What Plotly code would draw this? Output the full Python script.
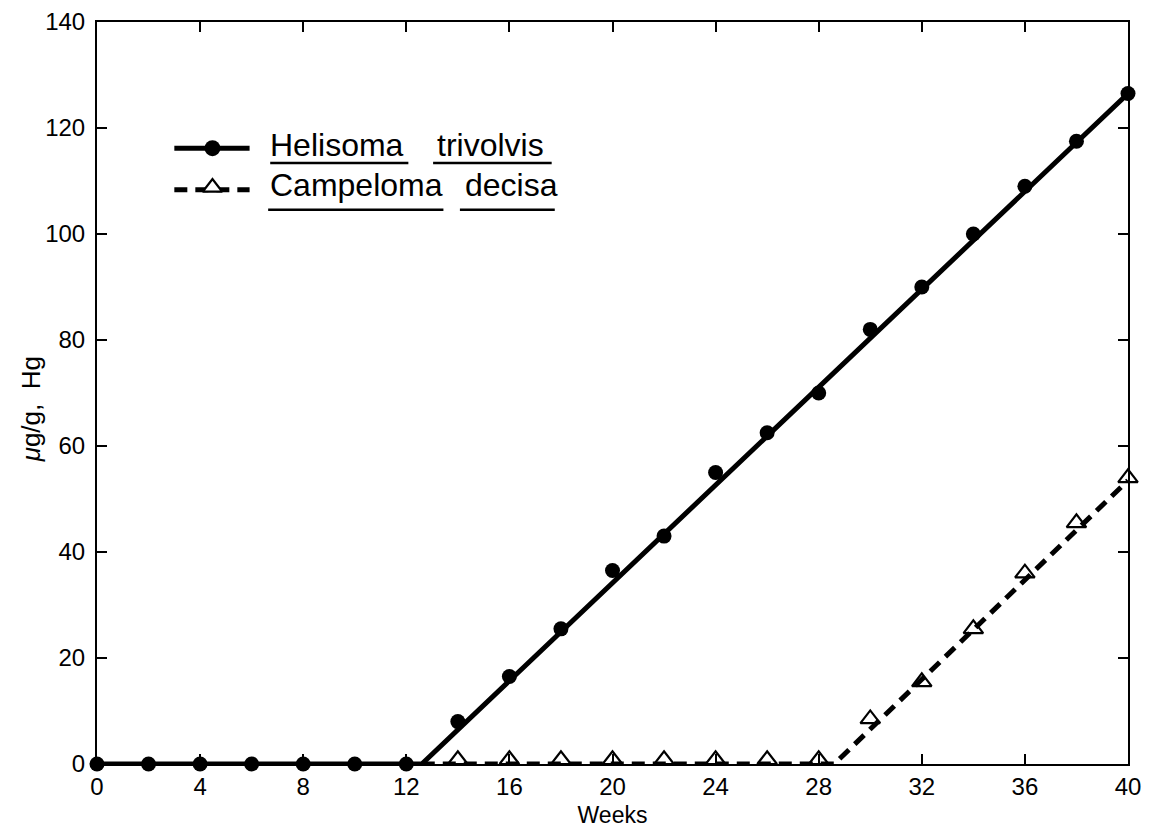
import plotly.graph_objects as go

# ---- data ----
weeks = [0, 2, 4, 6, 8, 10, 12, 14, 16, 18, 20, 22, 24, 26, 28, 30, 32, 34, 36, 38, 40]
helisoma = [0, 0, 0, 0, 0, 0, 0, 8, 16.5, 25.5, 36.5, 43, 55, 62.5, 70, 82, 90, 100, 109, 117.5, 126.5]

camp_weeks = [14, 16, 18, 20, 22, 24, 26, 28, 30, 32, 34, 36, 38, 40]
campeloma = [0.8, 0.8, 0.8, 0.8, 0.8, 0.8, 0.8, 0.8, 8.5, 15.5, 25.5, 36, 45.5, 54]

# fitted lines drawn through the data
hel_fit_x = [0, 12.6, 40]
hel_fit_y = [0, 0, 126.5]
camp_fit_x = [12.6, 28.6, 40]
camp_fit_y = [0, 0, 53.5]

x_ticks = [0, 4, 8, 12, 16, 20, 24, 28, 32, 36, 40]
y_ticks = [0, 20, 40, 60, 80, 100, 120, 140]

legend_names = [["Helisoma", "trivolvis"], ["Campeloma", "decisa"]]

FONT = "Liberation Sans"
fig = go.Figure()

fig.add_trace(go.Scatter(x=camp_weeks, y=campeloma, mode="markers",
                         marker=dict(symbol="triangle-up", size=17, color="white",
                                     line=dict(color="black", width=2.2)),
                         name="Campeloma decisa", showlegend=False, cliponaxis=False))
fig.add_trace(go.Scatter(x=hel_fit_x, y=hel_fit_y, mode="lines",
                         line=dict(color="black", width=5), showlegend=False, hoverinfo="skip"))
fig.add_trace(go.Scatter(x=camp_fit_x, y=camp_fit_y, mode="lines",
                         line=dict(color="black", width=5, dash="13px,8px"), showlegend=False, hoverinfo="skip"))
fig.add_trace(go.Scatter(x=weeks, y=helisoma, mode="markers",
                         marker=dict(symbol="circle", size=15, color="black"),
                         name="Helisoma trivolvis", showlegend=False, cliponaxis=False))

# custom legend on an overlay axis (0..1)
fig.add_trace(go.Scatter(x=[0.075, 0.148], y=[0.830, 0.830], mode="lines",
                         line=dict(color="black", width=5),
                         xaxis="x2", yaxis="y2", showlegend=False, hoverinfo="skip"))
fig.add_trace(go.Scatter(x=[0.112], y=[0.830], mode="markers",
                         marker=dict(symbol="circle", size=16, color="black"),
                         xaxis="x2", yaxis="y2", showlegend=False, hoverinfo="skip"))
fig.add_trace(go.Scatter(x=[0.075, 0.148], y=[0.774, 0.774], mode="lines",
                         line=dict(color="black", width=5, dash="13px,8px"),
                         xaxis="x2", yaxis="y2", showlegend=False, hoverinfo="skip"))
fig.add_trace(go.Scatter(x=[0.112], y=[0.777], mode="markers",
                         marker=dict(symbol="triangle-up", size=17, color="white",
                                     line=dict(color="black", width=2.2)),
                         xaxis="x2", yaxis="y2", showlegend=False, hoverinfo="skip"))

annotations = []
shapes = []
rows_y = [0.834, 0.780]
word_x = [[0.166, 0.328], [0.166, 0.355]]
ul_y = [0.810, 0.747]
ul_x = [[(0.168, 0.302), (0.326, 0.441)], [(0.166, 0.336), (0.352, 0.444)]]
for r, words in enumerate(legend_names):
    for w, word in enumerate(words):
        annotations.append(dict(text=word, x=word_x[r][w], y=rows_y[r],
                                xref="paper", yref="paper", xanchor="left", yanchor="middle",
                                showarrow=False, font=dict(family=FONT, size=32, color="black")))
        x0, x1 = ul_x[r][w]
        shapes.append(dict(type="line", xref="paper", yref="paper", x0=x0, x1=x1,
                           y0=ul_y[r], y1=ul_y[r], line=dict(color="black", width=2.5)))

annotations.append(dict(text="<i>\u03bc</i>g/g,  Hg", x=-0.064, y=0.478, xref="paper", yref="paper",
                        textangle=-90, showarrow=False, xanchor="center", yanchor="middle",
                        font=dict(family=FONT, size=26, color="black")))

fig.update_layout(
    width=1150, height=833,
    margin=dict(l=97, r=22, t=22, b=69, autoexpand=False),
    paper_bgcolor="white", plot_bgcolor="white",
    font=dict(family=FONT, color="black"),
    annotations=annotations,
    shapes=shapes,
    xaxis=dict(range=[0, 40], tickvals=x_ticks, ticks="inside", ticklen=10, tickwidth=1.5,
               tickcolor="black", showline=True, linecolor="black", linewidth=2, mirror="ticks",
               showgrid=False, zeroline=False, tickfont=dict(size=24, family=FONT), automargin=False,
               title=dict(text="Weeks", font=dict(size=23, family=FONT), standoff=8)),
    yaxis=dict(range=[0, 140], tickvals=y_ticks, ticks="inside", ticklen=10, tickwidth=1.5,
               tickcolor="black", showline=True, linecolor="black", linewidth=2, mirror="ticks",
               showgrid=False, zeroline=False, tickfont=dict(size=24, family=FONT), ticklabelstandoff=5,
               automargin=False),
    xaxis2=dict(range=[0, 1], overlaying="x", visible=False),
    yaxis2=dict(range=[0, 1], overlaying="y", visible=False),
)

fig.write_html("out.html")
